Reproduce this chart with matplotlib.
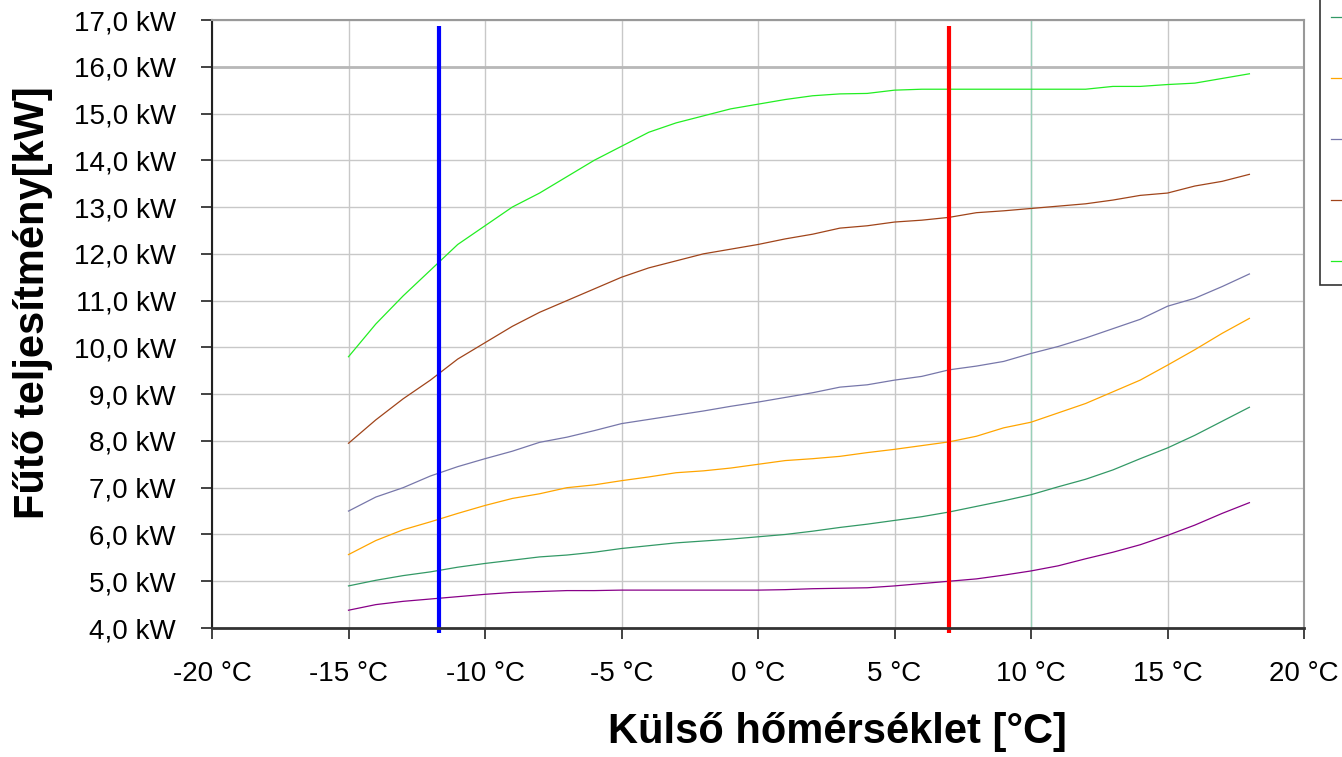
import matplotlib.pyplot as plt
import numpy as np
from matplotlib.ticker import FuncFormatter, MultipleLocator

plt.rcParams['font.family'] = ['Liberation Sans', 'DejaVu Sans']

# outdoor temperature [°C]
temps = list(range(-15, 19))

# heating capacity curves [kW]
s_purple = [4.38, 4.50, 4.57, 4.62, 4.67, 4.72, 4.76, 4.78, 4.80, 4.80, 4.81, 4.81,
            4.81, 4.81, 4.81, 4.81, 4.82, 4.84, 4.85, 4.86, 4.90, 4.95, 5.00, 5.05,
            5.13, 5.22, 5.33, 5.48, 5.62, 5.78, 5.98, 6.20, 6.45, 6.68]
s_teal = [4.90, 5.02, 5.12, 5.20, 5.30, 5.38, 5.45, 5.52, 5.56, 5.62, 5.70, 5.76,
          5.82, 5.86, 5.90, 5.95, 6.00, 6.07, 6.15, 6.22, 6.30, 6.38, 6.48, 6.60,
          6.72, 6.85, 7.02, 7.18, 7.38, 7.62, 7.85, 8.12, 8.42, 8.72]
s_orange = [5.57, 5.87, 6.10, 6.27, 6.45, 6.62, 6.77, 6.87, 7.00, 7.06, 7.15, 7.23,
            7.32, 7.36, 7.42, 7.50, 7.58, 7.62, 7.67, 7.75, 7.82, 7.90, 7.98, 8.10,
            8.28, 8.40, 8.60, 8.80, 9.05, 9.30, 9.62, 9.95, 10.30, 10.62]
s_slate = [6.50, 6.80, 7.00, 7.25, 7.45, 7.62, 7.78, 7.97, 8.08, 8.22, 8.37, 8.46,
           8.55, 8.64, 8.74, 8.83, 8.93, 9.03, 9.15, 9.20, 9.30, 9.38, 9.52, 9.60,
           9.70, 9.87, 10.02, 10.20, 10.40, 10.60, 10.88, 11.05, 11.30, 11.57]
s_brown = [7.95, 8.45, 8.90, 9.30, 9.75, 10.10, 10.45, 10.75, 11.00, 11.25, 11.50, 11.70,
           11.85, 12.00, 12.10, 12.20, 12.32, 12.42, 12.55, 12.60, 12.68, 12.72, 12.78, 12.88,
           12.92, 12.97, 13.02, 13.07, 13.15, 13.25, 13.30, 13.45, 13.55, 13.70]
s_green = [9.80, 10.50, 11.10, 11.65, 12.20, 12.60, 13.00, 13.30, 13.65, 14.00, 14.30, 14.60,
           14.80, 14.95, 15.10, 15.20, 15.30, 15.38, 15.42, 15.43, 15.50, 15.52, 15.52, 15.52,
           15.52, 15.52, 15.52, 15.52, 15.58, 15.58, 15.62, 15.65, 15.75, 15.85]

series = [s_purple, s_teal, s_orange, s_slate, s_brown, s_green]
names = ['35 °C', '40 °C', '45 °C', '50 °C', '55 °C', '60 °C']
colors = ['#880088', '#339966', '#ffa500', '#7777aa', '#a0441a', '#22ee22']

# marker lines: bivalent point and nominal point
t_blue = -11.7
t_red = 7.0

fig = plt.figure(figsize=(13.42, 7.57), dpi=100)
ax = fig.add_axes([212 / 1342, 1 - 628 / 757, (1304 - 212) / 1342, (628 - 20) / 757])

ax.grid(True, color='#c8c8c8', linewidth=1.0)
ax.set_axisbelow(True)
ax.axvline(10, color='#99d0b8', linewidth=1.0, zorder=1)
ax.axhline(16, color='#b8b8b8', linewidth=2.0, zorder=1)

for s, n, c in zip(series, names, colors):
    ax.plot(temps, s, color=c, linewidth=0.9, label=n)

ax.plot([t_blue, t_blue], [3.9, 16.87], color='#0000ff', linewidth=3, clip_on=False, solid_capstyle='butt')
ax.plot([t_red, t_red], [3.9, 16.87], color='#ff0000', linewidth=3, clip_on=False, solid_capstyle='butt')

ax.set_xlim(-20, 20)
ax.set_ylim(4, 17)
ax.xaxis.set_major_locator(MultipleLocator(5))
ax.yaxis.set_major_locator(MultipleLocator(1))
ax.xaxis.set_major_formatter(FuncFormatter(lambda v, p: f"{v:.0f} °C"))
ax.yaxis.set_major_formatter(FuncFormatter(lambda v, p: f"{v:.1f} kW".replace('.', ',')))
ax.tick_params(labelsize=20, length=8, width=1.2, color='#222222')
ax.tick_params(axis='y', pad=18)
ax.tick_params(axis='x', pad=16)

for side in ['top', 'right']:
    ax.spines[side].set_color('#999999')
    ax.spines[side].set_linewidth(1.5)
ax.spines['left'].set_color('#222222')
ax.spines['left'].set_linewidth(1.5)
ax.spines['bottom'].set_color('#333333')
ax.spines['bottom'].set_linewidth(2)

ax.set_xlabel('Külső hőmérséklet [°C]', fontsize=30, fontweight='bold')
ax.set_ylabel('Fűtő teljesítmény[kW]', fontsize=30, fontweight='bold')
ax.xaxis.set_label_coords((837 - 212) / 1092, -(732 - 628) / 608)
ax.yaxis.set_label_coords(-(212 - 33) / 1092, (628 - 303) / 608)
ax.xaxis.label.set_va('center')
ax.yaxis.label.set_va('center')

leg = ax.legend(loc='lower left', bbox_to_anchor=(1320 / 1342, 1 - 285 / 757),
                bbox_transform=fig.transFigure, fontsize=16, frameon=True,
                fancybox=False, edgecolor='black', labelspacing=1.8,
                handlelength=2.5, borderpad=0.5, borderaxespad=0)
leg.get_frame().set_linewidth(1.2)

fig.savefig('out.png', dpi=100)
